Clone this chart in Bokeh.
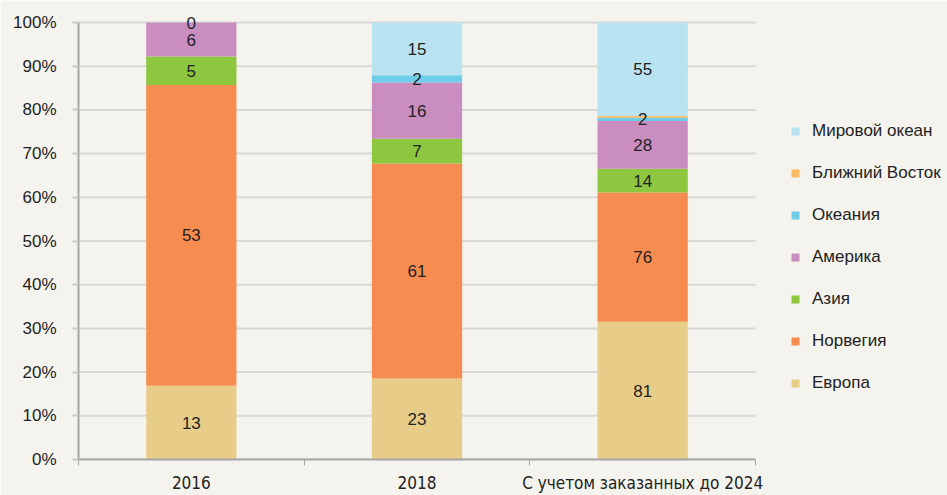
import numpy as np
from bokeh.plotting import figure
from bokeh.models import (ColumnDataSource, FixedTicker, Legend, LegendItem,
                          NumeralTickFormatter, Range1d)
from bokeh.core.properties import value
from bokeh.embed import file_html
from bokeh.resources import INLINE

categories = ["2016", "2018", "С учетом заказанных до 2024"]
series_names = ["Европа", "Норвегия", "Азия", "Америка", "Океания",
                "Ближний Восток", "Мировой океан"]
europe = [13, 23, 81]
norway = [53, 61, 76]
asia = [5, 7, 14]
america = [6, 16, 28]
oceania = [0, 2, 2]
middle_east = [0, 0, 1]
world_ocean = [0, 15, 55]
y_ticks = [0.0, 0.1, 0.2, 0.3, 0.4, 0.5, 0.6, 0.7, 0.8, 0.9, 1.0]
colors = ["#e8cd88", "#f78c50", "#8dc63f", "#c98dc0", "#6dcdea",
          "#fdb863", "#b9e3f0"]
# which segment labels are shown in the original
show_label = [
    [True, True, True],
    [True, True, True],
    [True, True, True],
    [True, True, True],
    [False, True, True],
    [False, False, False],
    [True, True, True],
]

XFONT = "DejaVu Sans Condensed, Liberation Sans"
FONT = "Liberation Sans"
series = [europe, norway, asia, america, oceania, middle_east, world_ocean]
vals = np.array(series, dtype=float)
totals = vals.sum(axis=0)
shares = vals / totals

W, H = 947, 495
left, right_edge = 78, 755          # frame left / right end of the category area
top_px, bottom_px = 22, 459         # pixel rows of 100% and 0%
top_border = 6
ncat = len(categories)
x_end = ncat * (W - left) / (right_edge - left)
y_end = 1 + (top_px - top_border) / (bottom_px - top_px)

p = figure(width=W, height=H, output_backend="svg", toolbar_location=None,
           x_range=Range1d(0, x_end), y_range=Range1d(0, y_end),
           min_border_left=left, min_border_right=0,
           min_border_top=top_border, min_border_bottom=H - bottom_px)
p.background_fill_color = "#f4f3ee"
p.border_fill_color = "#f4f3ee"
p.outline_line_color = None

# horizontal gridlines limited to the category area
p.segment(x0=[0] * len(y_ticks), x1=[ncat] * len(y_ticks), y0=y_ticks,
          y1=y_ticks, line_color="#d8d8d8", line_width=2)

xs = [0.5 + i for i in range(ncat)]
bottom = np.zeros(ncat)
renderers = []
lx, ly, lt = [], [], []
for k, name in enumerate(series_names):
    top = bottom + shares[k]
    src = ColumnDataSource(dict(x=xs, bottom=bottom.copy(), top=top.copy()))
    r = p.vbar(x="x", bottom="bottom", top="top", width=0.4, source=src,
               fill_color=colors[k], line_color=None)
    renderers.append(r)
    for i in range(ncat):
        if show_label[k][i]:
            lx.append(xs[i])
            ly.append((bottom[i] + top[i]) / 2)
            lt.append(str(series[k][i]))
    bottom = top

p.text(x=lx, y=ly, text=lt, text_align="center", text_baseline="middle",
       text_font=value(FONT), text_font_size="17px", text_color="#222222")

p.xgrid.visible = False
p.ygrid.visible = False

# y axis
p.yaxis.bounds = (0, 1)
p.yaxis.ticker = FixedTicker(ticks=y_ticks)
p.yaxis.formatter = NumeralTickFormatter(format="0%")
p.yaxis.axis_line_color = "#a6a6a6"
p.yaxis.axis_line_width = 2
p.yaxis.major_tick_line_color = "#c8c8c8"
p.yaxis.major_tick_line_width = 2
p.yaxis.major_tick_in = 0
p.yaxis.major_tick_out = 6
p.yaxis.minor_tick_line_color = None
p.yaxis.major_label_text_font = FONT
p.yaxis.major_label_text_font_size = "17px"
p.yaxis.major_label_text_color = "#222222"
p.yaxis.major_label_standoff = 16

# x axis
p.xaxis.bounds = (0, ncat)
p.xaxis.ticker = FixedTicker(ticks=xs, minor_ticks=list(range(ncat + 1)))
p.xaxis.major_label_overrides = {x: c for x, c in zip(xs, categories)}
p.xaxis.axis_line_color = "#a6a6a6"
p.xaxis.axis_line_width = 2
p.xaxis.major_tick_line_color = None
p.xaxis.major_tick_in = 0
p.xaxis.major_tick_out = 0
p.xaxis.minor_tick_line_color = "#a6a6a6"
p.xaxis.minor_tick_line_width = 1
p.xaxis.minor_tick_in = 0
p.xaxis.minor_tick_out = 6
p.xaxis.major_label_text_font = XFONT
p.xaxis.major_label_text_font_size = "17px"
p.xaxis.major_label_text_color = "#222222"
p.xaxis.major_label_standoff = 7

items = [LegendItem(label=series_names[k], renderers=[renderers[k]])
         for k in reversed(range(len(series_names)))]
legend = Legend(items=items, location=(712, 66), padding=0, margin=0,
                spacing=22, label_height=20, glyph_height=10, glyph_width=10,
                label_standoff=12, border_line_color=None,
                background_fill_alpha=0,
                label_text_font=FONT,
                label_text_font_size="17px", label_text_color="#222222")
p.add_layout(legend, "center")

open("out.html", "w").write(file_html(p, INLINE))
